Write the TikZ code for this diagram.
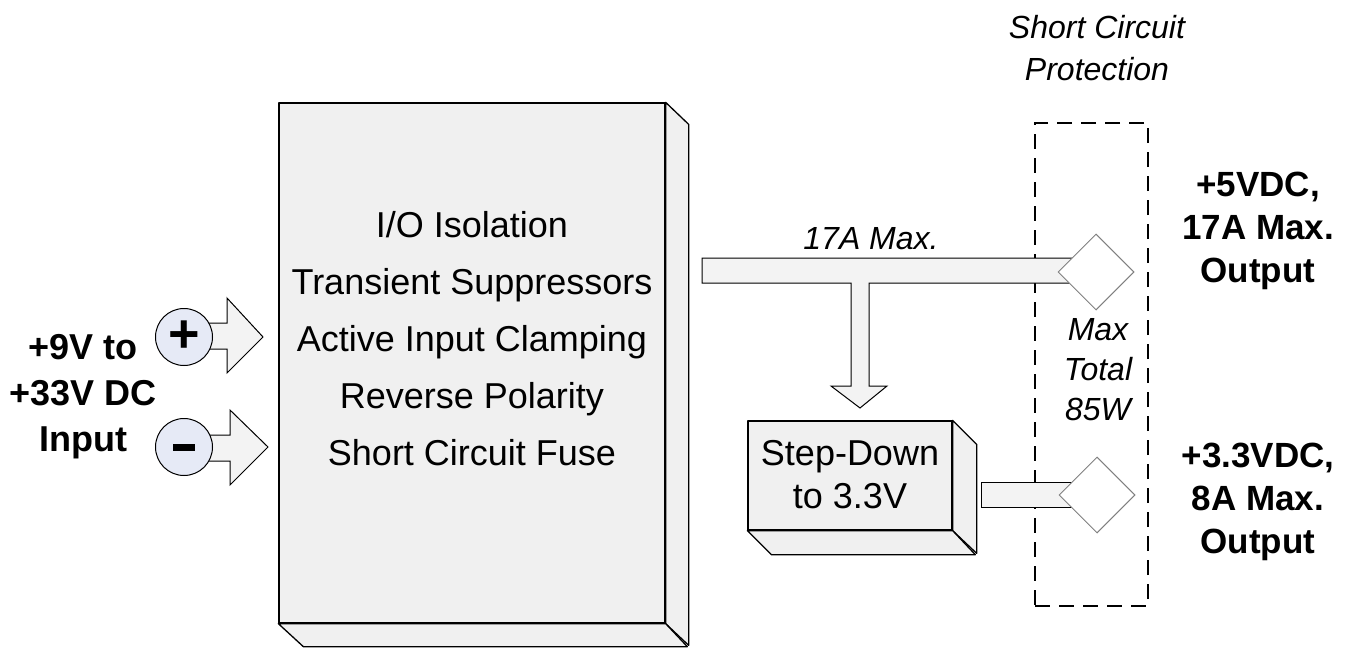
\documentclass[tikz,border=0pt]{standalone}
\usepackage{fontspec}
\setmainfont{Liberation Sans}
\usetikzlibrary{shapes.geometric}
\definecolor{boxgray}{RGB}{240,240,240}
\definecolor{arrowgray}{RGB}{243,243,243}
\definecolor{diamgray}{RGB}{128,128,128}
\definecolor{circblue}{RGB}{230,234,246}
\begin{document}
\begin{tikzpicture}[x=1pt,y=-1pt,
  face/.style={draw=black, line width=1.3pt, fill=boxgray, line join=round},
  arrowshape/.style={draw=black, line width=1pt, fill=arrowgray, line join=miter},
  diam/.style={diamond, draw=diamgray, fill=white, line width=1pt, minimum width=76pt, minimum height=76pt, inner sep=0pt},
  sign/.style={circle, draw=black, line width=1pt, fill=circblue, minimum size=57pt, inner sep=0pt, font=\fontsize{54}{54}\selectfont\bfseries},
  txt/.style={inner sep=0pt, align=center},
  regtext/.style={txt, font=\fontsize{36}{57}\selectfont},
  boldtext/.style={txt, font=\fontsize{35}{43}\selectfont\bfseries},
  ittext/.style={txt, font=\fontsize{32}{42}\selectfont\itshape}
]
\useasboundingbox (0,0) rectangle (1355,648);

% main 3D box
\node[face, minimum width=386pt, minimum height=520pt, inner sep=0pt] (main) at (472,363) {};
\draw[face] (main.north east) -- ++(23,22) -- ++(0,521) -- (main.south east) -- cycle;
\draw[face] (main.south west) -- ++(25,23) -- ++(384,0) -- (main.south east) -- cycle;
\node[regtext] (maintext) at (472,339) {I/O Isolation\\Transient Suppressors\\Active Input Clamping\\Reverse Polarity\\Short Circuit Fuse};

% input arrows
\draw[arrowshape] (200,323) -- (227,323) -- (227,298) -- (263,337) -- (227,373) -- (227,349) -- (200,349) -- cycle;
\draw[arrowshape] (200,435) -- (230,435) -- (230,410) -- (268,447) -- (230,485) -- (230,461) -- (200,461) -- cycle;
\node[sign] (plus) at (184,337) {+};
\node[sign] (minus) at (184,447) {\rule[-3pt]{22pt}{7pt}};

\node[boldtext, font=\fontsize{36}{46}\selectfont\bfseries] (inlabel) at (83,397) {+9V to\\+33V DC\\Input};

% step-down box
\node[face, minimum width=204pt, minimum height=109pt, inner sep=0pt] (step) at (850,475.5) {};
\draw[face] (step.north east) -- ++(24,24) -- ++(0,109) -- (step.south east) -- cycle;
\draw[face] (step.south west) -- ++(24,24) -- ++(204,0) -- (step.south east) -- cycle;
\node[regtext, font=\fontsize{36}{43}\selectfont] (steptext) at (850,475) {Step-Down\\to 3.3V};

% dashed protection box
\node[draw=black, line width=1.5pt, dash pattern=on 15pt off 9pt, minimum width=113pt, minimum height=483pt, inner sep=0pt] (scp) at (1091.5,364.5) {};

% T arrow
\draw[arrowshape] (702,258) -- (1090,258) -- (1090,283) -- (869,283) -- (869,386) -- (887,386) -- (860,408) -- (831,386) -- (851,386) -- (851,283) -- (702,283) -- cycle;
% lower bar
\draw[arrowshape] (981,482) -- (1080,482) -- (1080,507) -- (981,507) -- cycle;

\node[diam] (d1) at (1096,272) {};
\node[diam] (d2) at (1097,495) {};

% labels
\node[ittext] (sc) at (1097,48) {Short Circuit\\Protection};
\node[ittext] (i17) at (871,239) {17A Max.};
\node[ittext, font=\fontsize{32}{40}\selectfont\itshape] (tot) at (1098,370) {Max\\Total\\85W};
\node[boldtext] (o5) at (1258,231) {+5VDC,\\17A Max.\\Output};
\node[boldtext] (o33) at (1258,502) {+3.3VDC,\\8A Max.\\Output};
\end{tikzpicture}
\end{document}
